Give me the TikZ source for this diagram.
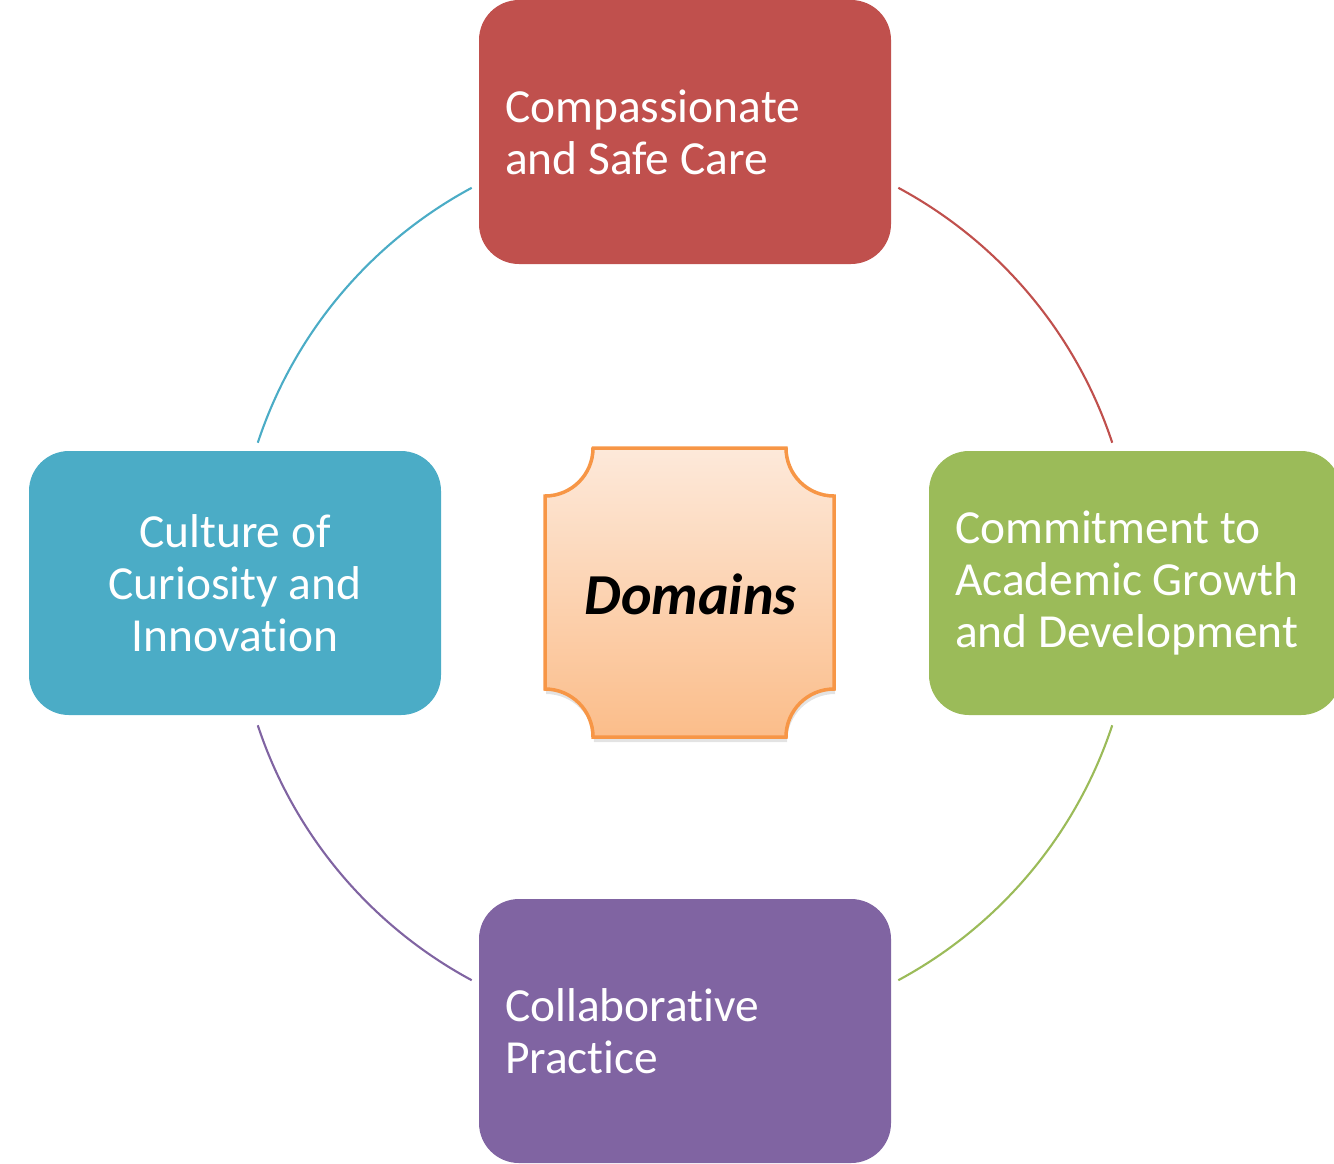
\documentclass[tikz,border=0pt]{standalone}
\usepackage{fontspec}
\setmainfont{Carlito}[Ligatures=NoCommon]
\usetikzlibrary{positioning, shadows, calc}

\definecolor{careRed}{HTML}{C0504D}
\definecolor{growthGreen}{HTML}{9BBB59}
\definecolor{practicePurple}{HTML}{8064A2}
\definecolor{curiosityBlue}{HTML}{4BACC6}
\definecolor{domainEdge}{HTML}{F79646}
\definecolor{domainTop}{HTML}{FDE9DA}
\definecolor{domainBottom}{HTML}{FBBD8A}

\tikzstyle{domainBox}=[rounded corners=0.4cm, minimum height=2.64cm, inner xsep=0.26cm, text=white, font=\fontsize{13.5}{14.8}\selectfont]
\tikzstyle{leftText}=[text width=3.6cm, align=flush left]
\tikzstyle{midText}=[text width=3.6cm, align=flush center]
\tikzstyle{ringArc}=[line width=0.6pt]

\begin{document}
\begin{tikzpicture}
        \clip (0,0) rectangle (13.34,-11.63);

        \coordinate (ring) at (6.85,-5.84);

        \node[domainBox, leftText, fill=careRed] (care) at (6.85,-1.32) {Compassionate\\and Safe Care};
        \node[domainBox, leftText, fill=growthGreen] (growth) at (11.35,-5.83) {Commitment to\\Academic Growth\\and Development};
        \node[domainBox, leftText, fill=practicePurple] (practice) at (6.85,-10.31) {Collaborative\\Practice};
        \node[domainBox, midText, fill=curiosityBlue] (curiosity) at (2.35,-5.83) {Culture of\\Curiosity and\\Innovation};

        % ring between the four boxes
        \coordinate (careR) at ($(ring)+(61.7:4.5)$);
        \coordinate (growthB) at ($(ring)+(-18.3:4.5)$);
        \coordinate (practiceL) at ($(ring)+(-118.3:4.5)$);
        \coordinate (curiosityT) at ($(ring)+(161.7:4.5)$);

        \draw[ringArc, careRed] (careR) arc[start angle=61.7, end angle=18.3, radius=4.5];
        \draw[ringArc, growthGreen] (growthB) arc[start angle=-18.3, end angle=-61.7, radius=4.5];
        \draw[ringArc, practicePurple] (practiceL) arc[start angle=-118.3, end angle=-161.7, radius=4.5];
        \draw[ringArc, curiosityBlue] (curiosityT) arc[start angle=161.7, end angle=118.3, radius=4.5];

        % plaque in the middle
        \begin{scope}[shift={(6.895,-5.925)}]
            \path[draw=domainEdge, line width=1pt, top color=domainTop, bottom color=domainBottom,
                  drop shadow={shadow xshift=0.01, shadow yshift=-0.05, opacity=0.22}]
                (-0.965,1.445) -- (0.965,1.445) arc[start angle=180, end angle=270, radius=0.48]
                -- (1.445,-0.965) arc[start angle=90, end angle=180, radius=0.48]
                -- (-0.965,-1.445) arc[start angle=0, end angle=90, radius=0.48]
                -- (-1.445,0.965) arc[start angle=270, end angle=360, radius=0.48] -- cycle;
        \end{scope}

        \node[font=\fontsize{16.5}{20}\selectfont\bfseries\itshape] (domains) at (6.905,-5.94) {Domains};

    \end{tikzpicture}
\end{document}
